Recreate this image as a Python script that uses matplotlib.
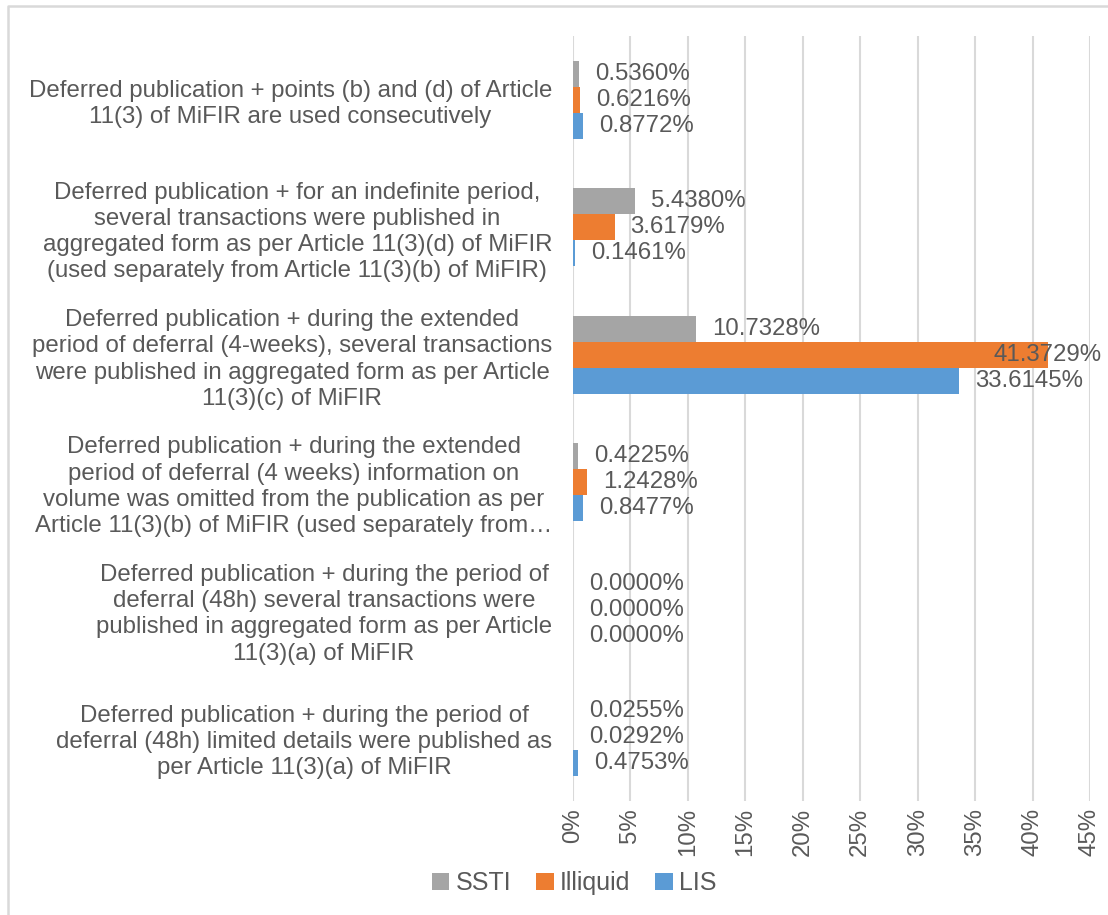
import matplotlib.pyplot as plt
import matplotlib.patches as mpatches
from matplotlib.lines import Line2D

plt.rcParams['font.family'] = ['Liberation Sans', 'DejaVu Sans']

# categories, top to bottom as shown
categories = [
    "Deferred publication + points (b) and (d) of Article\n11(3) of MiFIR are used consecutively",
    "Deferred publication + for an indefinite period,\nseveral transactions were published in\n"
    "aggregated form as per Article 11(3)(d) of MiFIR\n(used separately from Article 11(3)(b) of MiFIR)",
    "Deferred publication + during the extended\nperiod of deferral (4-weeks), several transactions\n"
    "were published in aggregated form as per Article\n11(3)(c) of MiFIR",
    "Deferred publication + during the extended\nperiod of deferral (4 weeks) information on\n"
    "volume was omitted from the publication as per\nArticle 11(3)(b) of MiFIR (used separately from\u2026",
    "Deferred publication + during the period of\ndeferral (48h) several transactions were\n"
    "published in aggregated form as per Article\n11(3)(a) of MiFIR",
    "Deferred publication + during the period of\ndeferral (48h) limited details were published as\n"
    "per Article 11(3)(a) of MiFIR",
]
series_names = ['SSTI', 'Illiquid', 'LIS']
ssti     = [0.5360, 5.4380, 10.7328, 0.4225, 0.0000, 0.0255]
illiquid = [0.6216, 3.6179, 41.3729, 1.2428, 0.0000, 0.0292]
lis      = [0.8772, 0.1461, 33.6145, 0.8477, 0.0000, 0.4753]
x_ticks = [0, 5, 10, 15, 20, 25, 30, 35, 40, 45]

COLORS = ['#a5a5a5', '#ed7d31', '#5b9bd5']
TXT = '#595959'
FS = 17.3

fig = plt.figure(figsize=(11.08, 9.15), dpi=100)
ax = fig.add_axes([573 / 1108, 1 - 801 / 915, (1090 - 573) / 1108, (801 - 36) / 915])

# chart frame: only the left and top edges fall inside the picture
fig.add_artist(Line2D([8 / 1108, 8 / 1108, 1], [0, 1 - 6 / 915, 1 - 6 / 915],
                      transform=fig.transFigure, color='#d9d9d9', linewidth=1.8))

bh = 0.205
offsets = [-bh, 0, bh]
for vals, off, col in zip([ssti, illiquid, lis], offsets, COLORS):
    ys = [i + off for i in range(len(categories))]
    ax.barh(ys, vals, height=bh, color=col, zorder=3)
    for y, v in zip(ys, vals):
        # labels that would run off the chart are pulled back over the bar
        dx = -55 if v > 40 else 16
        ax.annotate(f"{v:.4f}%", (v, y), xytext=(dx, 0), textcoords='offset pixels',
                    ha='left', va='center', fontsize=FS, color=TXT, zorder=5,
                    annotation_clip=False)

ax.set_xlim(0, 45)
ax.set_ylim(len(categories) - 0.5, -0.5)
ax.set_xticks(x_ticks)
ax.set_xticklabels([f"{t}%" for t in x_ticks], rotation=90, fontsize=FS, color=TXT)
ax.set_yticks(range(len(categories)))
ax.set_yticklabels(categories, fontsize=FS, color=TXT, multialignment='center', linespacing=1.25)
ax.tick_params(axis='y', length=0, pad=15)
ax.tick_params(axis='x', length=0, pad=5)
ax.xaxis.grid(True, color='#d9d9d9', linewidth=1.5)
ax.set_axisbelow(True)
for s in ax.spines.values():
    s.set_visible(False)

handles = [mpatches.Patch(facecolor=c, label=n) for c, n in zip(COLORS, series_names)]
fig.legend(handles=handles, loc='center', bbox_to_anchor=(574 / 1108, 1 - 883 / 915), ncol=3,
           frameon=False, fontsize=18, labelcolor=TXT, handlelength=0.7, handleheight=0.7,
           handletextpad=0.25, columnspacing=1.0)

fig.savefig('out.png', dpi=100, facecolor='white')
